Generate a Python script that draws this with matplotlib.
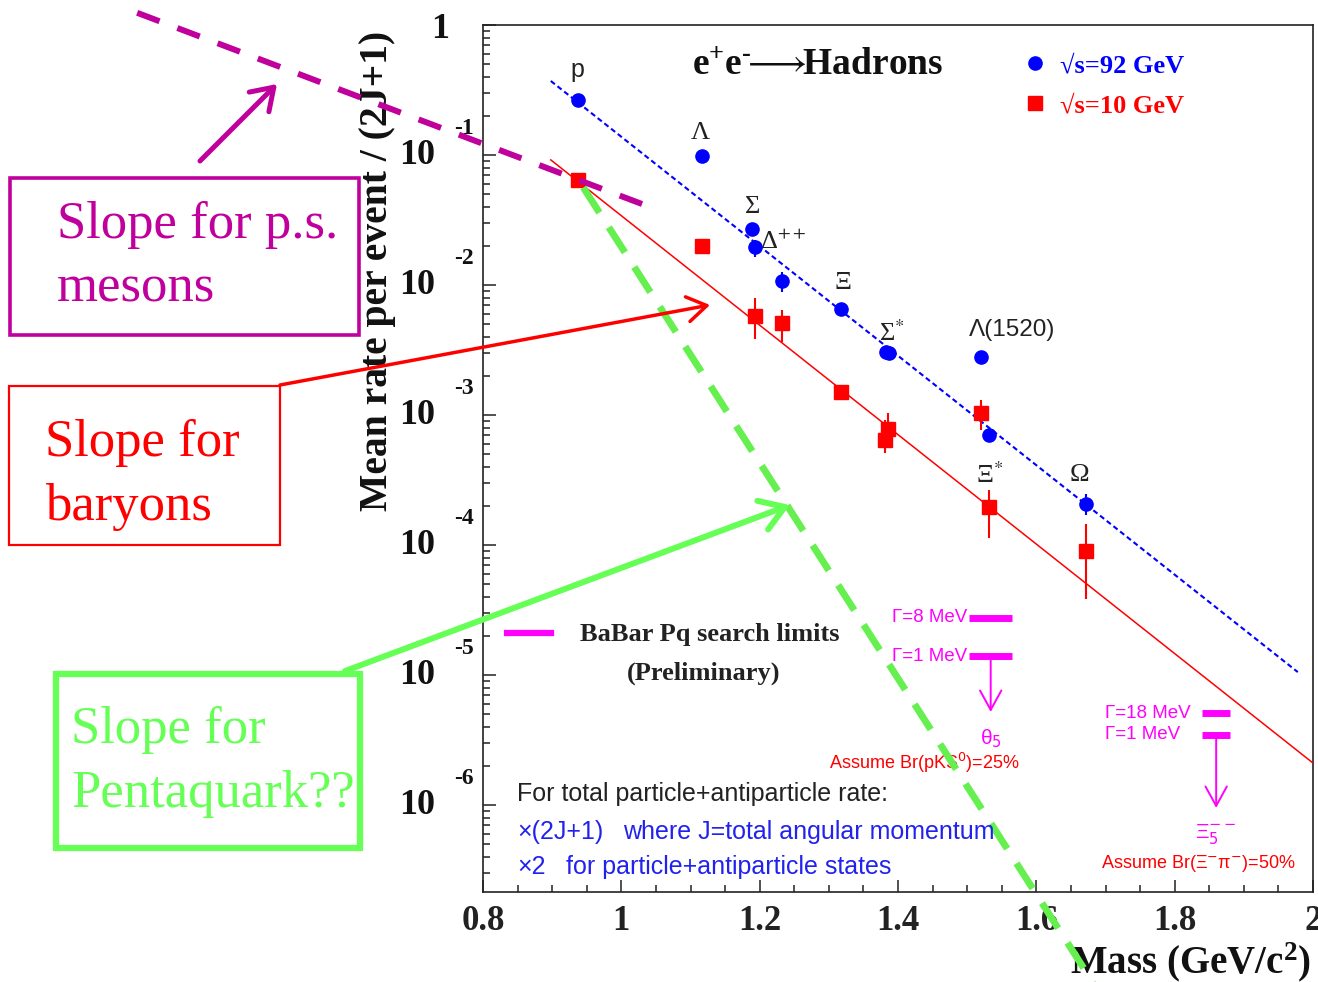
import matplotlib
matplotlib.use("Agg")
import numpy as np
import matplotlib.pyplot as plt
from matplotlib import transforms
from matplotlib.patches import Rectangle, FancyArrowPatch, ArrowStyle
from matplotlib.lines import Line2D
from matplotlib.ticker import FixedLocator, MultipleLocator, LogLocator, NullFormatter

# ---------------------------------------------------------------- data
# Baryon yields per event divided by spin multiplicity (2J+1)
MASS_92 = [0.938, 1.116, 1.189, 1.193, 1.232, 1.318, 1.383, 1.387, 1.520, 1.532, 1.672]
RATE_92 = [0.265, 0.0983, 0.0270, 0.0196, 0.0107, 0.00654, 0.00305, 0.00300, 0.00279, 0.000702, 0.000207]
LOW_92 = [0.265, 0.0983, 0.0270, 0.0164, 0.00883, 0.00654, 0.00305, 0.00300, 0.00247, 0.000660, 0.000170]
HIGH_92 = [0.265, 0.0983, 0.0270, 0.0222, 0.0126, 0.00654, 0.00305, 0.00300, 0.00305, 0.000740, 0.000247]

MASS_10 = [0.938, 1.116, 1.193, 1.232, 1.318, 1.385, 1.381, 1.520, 1.532, 1.672]
RATE_10 = [0.0643, 0.0200, 0.00578, 0.00510, 0.00150, 0.000780, 0.000643, 0.001035, 0.000196, 0.0000899]
LOW_10 = [0.0643, 0.0200, 0.00384, 0.00365, 0.00130, 0.000557, 0.000510, 0.000767, 0.000113, 0.0000384]
HIGH_10 = [0.0643, 0.0200, 0.00794, 0.00642, 0.00164, 0.001035, 0.000916, 0.00130, 0.000265, 0.000145]

# exponential fits: log10(rate) = intercept + slope * mass
FIT_SLOPE = -4.21
FIT_INTERCEPT_92 = 3.350
FIT_INTERCEPT_10 = 2.743
FIT_RANGE_92 = (0.898, 1.978)
FIT_RANGE_10 = (0.898, 2.0)

# comparison slopes (decades per GeV), anchored on the proton at 10 GeV
ANCHOR_MASS = 0.938
ANCHOR_RATE = 0.0643
MESON_SLOPE = -2.015
MESON_RANGE = (0.300, 1.040)
PENTA_SLOPE = -8.30
PENTA_RANGE = (0.945, 1.690)

# BaBar pentaquark upper limits
PQ_MASS = [1.534, 1.860]
PQ_HALF_WIDTH = [0.031, 0.020]
PQ_LIMIT_WIDE = [2.75e-5, 5.10e-6]
PQ_LIMIT_NARROW = [1.40e-5, 3.46e-6]
PQ_ARROW_END = [5.2e-6, 9.5e-7]
PQ_WIDE_LABEL = ["Γ=8 MeV", "Γ=18 MeV"]
PQ_NARROW_LABEL = ["Γ=1 MeV", "Γ=1 MeV"]
PQ_NAME = [r"θ$_5$", r"Ξ$_5^{- -}$"]
PQ_BR = [r"Assume Br(pKS$^0$)=25%", r"Assume Br(Ξ$^{-}$π$^{-}$)=50%"]

XTICKS = [0.8, 1.0, 1.2, 1.4, 1.6, 1.8, 2.0]
XTICK_LABELS = ["0.8", "1", "1.2", "1.4", "1.6", "1.8", "2"]
Y_DECADES = [0, -1, -2, -3, -4, -5, -6]
LEGEND_LABELS = ["√s=92 GeV", "√s=10 GeV"]

# ---------------------------------------------------------------- style
W, H = 1318, 982
SERIF = ["Liberation Serif", "DejaVu Serif"]
SANS = ["Liberation Sans", "DejaVu Sans"]
BLUE = "#0000ff"
RED = "#ff0000"
PINK = "#ff00ff"
PURPLE = "#c0009c"
GREEN = "#66f050"
GREEN_TXT = "#66ff55"

plt.rcParams["mathtext.fontset"] = "custom"
plt.rcParams["mathtext.rm"] = "Liberation Serif:bold"
plt.rcParams["mathtext.bf"] = "Liberation Serif:bold"
plt.rcParams["mathtext.it"] = "Liberation Serif:bold:italic"


def fx(px):
    return px / W


def fy(py):
    return 1 - py / H


fig = plt.figure(figsize=(W / 100, H / 100), dpi=100)
fig.patch.set_facecolor("white")
ax = fig.add_axes([fx(483), fy(892), (1313 - 483) / W, (892 - 25) / H])
ax.set_yscale("log")
ax.set_xlim(0.8, 2.0)
ax.set_ylim(10 ** -6.669, 1.0)

for s in ax.spines.values():
    s.set_linewidth(1.2)
    s.set_color("#222222")

ax.xaxis.set_major_locator(FixedLocator(XTICKS))
ax.xaxis.set_minor_locator(MultipleLocator(0.05))
ax.set_xticklabels(XTICK_LABELS, fontfamily=SERIF, fontweight="bold", fontsize=25)
ax.yaxis.set_major_locator(LogLocator(base=10, numticks=20))
ax.yaxis.set_minor_locator(LogLocator(base=10, subs=np.arange(2, 10), numticks=20))
ax.yaxis.set_major_formatter(NullFormatter())
ax.yaxis.set_minor_formatter(NullFormatter())
ax.tick_params(which="both", direction="in", top=False, right=False, width=1.1, colors="#222222")
ax.tick_params(which="major", length=9)
ax.tick_params(which="minor", length=5)
ax.tick_params(axis="x", which="major", pad=9)

# y tick labels drawn as "10" plus a raised exponent
ty = transforms.blended_transform_factory(fig.transFigure, ax.transData)
raise_exp = transforms.ScaledTranslation(0, 27 / 100, fig.dpi_scale_trans)
drop_one = transforms.ScaledTranslation(0, -4 / 100, fig.dpi_scale_trans)
for e in Y_DECADES:
    if e == 0:
        ax.text(fx(440), 1.0, "1", transform=ty + drop_one, ha="center", va="center",
                fontfamily=SERIF, fontweight="bold", fontsize=26, color="#111111")
    else:
        ax.text(fx(417), 10.0 ** e, "10", transform=ty, ha="center", va="center",
                fontfamily=SERIF, fontweight="bold", fontsize=26, color="#111111")
        ax.text(fx(464), 10.0 ** e, "-%d" % (-e), transform=ty + raise_exp, ha="center",
                va="center", fontfamily=SERIF, fontweight="bold", fontsize=17, color="#111111")

ax.text(fx(377), fy(271), "Mean rate per event / (2J+1)", transform=fig.transFigure,
        rotation=90, ha="center", va="center", fontfamily=SERIF, fontweight="bold",
        fontsize=28.5, color="#111111")
ax.text(fx(1311), fy(962), "Mass (GeV/c$^{2}$)", transform=fig.transFigure,
        ha="right", va="center", fontfamily=SERIF, fontweight="bold", fontsize=28,
        color="#111111")

# ---------------------------------------------------------------- fits
m92 = np.linspace(*FIT_RANGE_92, 50)
ax.plot(m92, 10 ** (FIT_INTERCEPT_92 + FIT_SLOPE * m92), color=BLUE, lw=1.5,
        dashes=(2.5, 1.6), zorder=3)
m10 = np.linspace(*FIT_RANGE_10, 50)
ax.plot(m10, 10 ** (FIT_INTERCEPT_10 + FIT_SLOPE * m10), color=RED, lw=1.1, zorder=3)

# ---------------------------------------------------------------- points
r92 = np.array(RATE_92)
r10 = np.array(RATE_10)
ax.errorbar(MASS_92, r92, yerr=[r92 - np.array(LOW_92), np.array(HIGH_92) - r92],
            fmt="none", ecolor=BLUE, elinewidth=1.5, capsize=0, zorder=4)
ax.errorbar(MASS_10, r10, yerr=[r10 - np.array(LOW_10), np.array(HIGH_10) - r10],
            fmt="none", ecolor=RED, elinewidth=1.5, capsize=0, zorder=4)
h92, = ax.plot(MASS_92, r92, "o", color=BLUE, ms=9.5, mec=BLUE, zorder=5)
h10, = ax.plot(MASS_10, r10, "s", color=RED, ms=9.5, mec=RED, zorder=5)

leg = ax.legend([h92, h10], LEGEND_LABELS, loc="upper left",
                bbox_to_anchor=(fx(1022), fy(54)), bbox_transform=fig.transFigure,
                frameon=False, numpoints=1, handlelength=1.0, handletextpad=0.45,
                labelspacing=0.62, borderpad=0, borderaxespad=0,
                prop=dict(family=SERIF, weight="bold", size=19))
for t, c in zip(leg.get_texts(), [BLUE, RED]):
    t.set_color(c)

ax.text(fx(692), fy(65), r"e$^{+}$e$^{\text{-}}\!\!\longrightarrow\!\!$Hadrons",
        transform=fig.transFigure, ha="left", va="center", fontfamily=SERIF,
        fontweight="bold", fontsize=27, color="#111111")

# particle names
greek_kw = dict(ha="center", va="center", fontsize=19, color="#222222",
                fontfamily=SERIF, math_fontfamily="stix")
ax.text(0.936, 0.451, "p", ha="center", va="center", fontsize=18, color="#222222",
        fontfamily=SANS)
ax.text(1.1137, 0.1477, "Λ", **greek_kw)
ax.text(1.1903, 0.0398, "Σ", **greek_kw)
ax.text(1.2345, 0.0215, r"Δ$^{++}$", **greek_kw)
ax.text(1.3205, 0.01036, "Ξ", **greek_kw)
ax.text(1.3905, 0.00430, r"Σ$^{*}$", **greek_kw)
ax.text(1.5650, 0.00451, "Λ(1520)", ha="center", va="center", fontsize=17.5,
        color="#222222", fontfamily=SANS)
ax.text(1.533, 0.000345, r"Ξ$^{*}$", **greek_kw)
ax.text(1.663, 0.000345, "Ω", **greek_kw)

# ---------------------------------------------------------------- BaBar limits
for i in range(len(PQ_MASS)):
    lo, hi = PQ_MASS[i] - PQ_HALF_WIDTH[i], PQ_MASS[i] + PQ_HALF_WIDTH[i]
    ax.hlines([PQ_LIMIT_WIDE[i], PQ_LIMIT_NARROW[i]], lo, hi, colors=PINK, lw=5, zorder=4)
    if i == 0:
        lx, lha = lo - 0.003, "right"
    else:
        lx, lha = lo - 0.141, "left"
    ax.text(lx, PQ_LIMIT_WIDE[i], PQ_WIDE_LABEL[i], ha=lha, va="center",
            fontfamily=SANS, fontsize=13.5, color=PINK)
    ax.text(lx, PQ_LIMIT_NARROW[i], PQ_NARROW_LABEL[i], ha=lha, va="center",
            fontfamily=SANS, fontsize=13.5, color=PINK)
    ax.annotate("", xy=(PQ_MASS[i], PQ_ARROW_END[i]), xytext=(PQ_MASS[i], PQ_LIMIT_NARROW[i]),
                arrowprops=dict(arrowstyle="->,head_length=1.0,head_width=0.55", color=PINK,
                                lw=1.4, mutation_scale=14, shrinkA=0, shrinkB=0))
    ax.annotate(PQ_NAME[i], xy=(PQ_MASS[i], PQ_ARROW_END[i]), xytext=(0, -19),
                textcoords="offset points", ha="center", va="center", fontfamily=SANS,
                fontsize=15, color=PINK, math_fontfamily="dejavusans")
    ax.annotate(PQ_BR[i], xy=(PQ_MASS[i], PQ_ARROW_END[i]),
                xytext=(-48 if i == 0 else -13, -37 if i == 0 else -40),
                textcoords="offset points", ha="center", va="center", fontfamily=SANS,
                fontsize=13, color=RED, math_fontfamily="dejavusans")

# BaBar key
fig.add_artist(Line2D([fx(507), fx(551)], [fy(633), fy(633)], color=PINK, lw=4.5,
                      transform=fig.transFigure))
fig.text(fx(580), fy(634), "BaBar Pq search limits", ha="left", va="center",
         fontfamily=SERIF, fontweight="bold", fontsize=19, color="#222222")
fig.text(fx(704), fy(673), "(Preliminary)", ha="center", va="center",
         fontfamily=SERIF, fontweight="bold", fontsize=19, color="#222222")

# multiplicity notes
note_kw = dict(ha="left", va="center", fontfamily=SANS, fontsize=18)
fig.text(fx(517), fy(794), "For total particle+antiparticle rate:", color="#222222", **note_kw)
fig.text(fx(517), fy(832), "×(2J+1)", color="#2222ee", **note_kw)
fig.text(fx(623), fy(832), "where J=total angular momentum", color="#2222ee", **note_kw)
fig.text(fx(517), fy(867), "×2", color="#2222ee", **note_kw)
fig.text(fx(566), fy(867), "for particle+antiparticle states", color="#2222ee", **note_kw)

# ---------------------------------------------------------------- slope guides
mm = np.linspace(*MESON_RANGE, 20)
ax.plot(mm, ANCHOR_RATE * 10 ** (MESON_SLOPE * (mm - ANCHOR_MASS)), color=PURPLE, lw=4.3,
        dashes=(4.0, 3.2), clip_on=False, zorder=8, dash_capstyle="butt")
mp = np.linspace(*PENTA_RANGE, 20)
ax.plot(mp, ANCHOR_RATE * 10 ** (PENTA_SLOPE * (mp - ANCHOR_MASS)), color=GREEN, lw=5.0,
        dashes=(4.3, 2.5), clip_on=False, zorder=8, dash_capstyle="butt")


# annotation boxes
def box(x0, y0, x1, y1, color, lw):
    fig.add_artist(Rectangle((fx(x0), fy(y1)), fx(x1) - fx(x0), fy(y0) - fy(y1),
                             transform=fig.transFigure, fill=False, edgecolor=color, lw=lw))


def arrow(p0, p1, color, lw, hl, hw):
    fig.add_artist(FancyArrowPatch((fx(p0[0]), fy(p0[1])), (fx(p1[0]), fy(p1[1])),
                                   transform=fig.transFigure,
                                   arrowstyle=ArrowStyle("->", head_length=hl, head_width=hw),
                                   mutation_scale=1, color=color, lw=lw,
                                   shrinkA=0, shrinkB=0, zorder=9))


box_txt = dict(ha="left", va="center", fontfamily=SERIF, fontsize=38)
box(10, 178, 359, 335, PURPLE, 2.6)
fig.text(fx(57), fy(225), "Slope for p.s.", color=PURPLE, **box_txt)
fig.text(fx(57), fy(289), "mesons", color=PURPLE, **box_txt)
arrow((200, 161), (277, 84), PURPLE, 3.6, 15, 10)

box(9, 386, 280, 545, RED, 1.6)
fig.text(fx(45), fy(443), "Slope for", color=RED, **box_txt)
fig.text(fx(45), fy(507), "baryons", color=RED, **box_txt)
arrow((280, 385), (710, 305), RED, 2.5, 14, 9)

box(56, 674, 360, 848, GREEN_TXT, 4.5)
fig.text(fx(71), fy(730), "Slope for", color=GREEN_TXT, **box_txt)
fig.text(fx(71), fy(794), "Pentaquark??", color=GREEN_TXT, **box_txt)
arrow((345, 671), (790, 505), GREEN_TXT, 4.3, 17, 11)

fig.savefig("out.png", dpi=100, facecolor="white")
